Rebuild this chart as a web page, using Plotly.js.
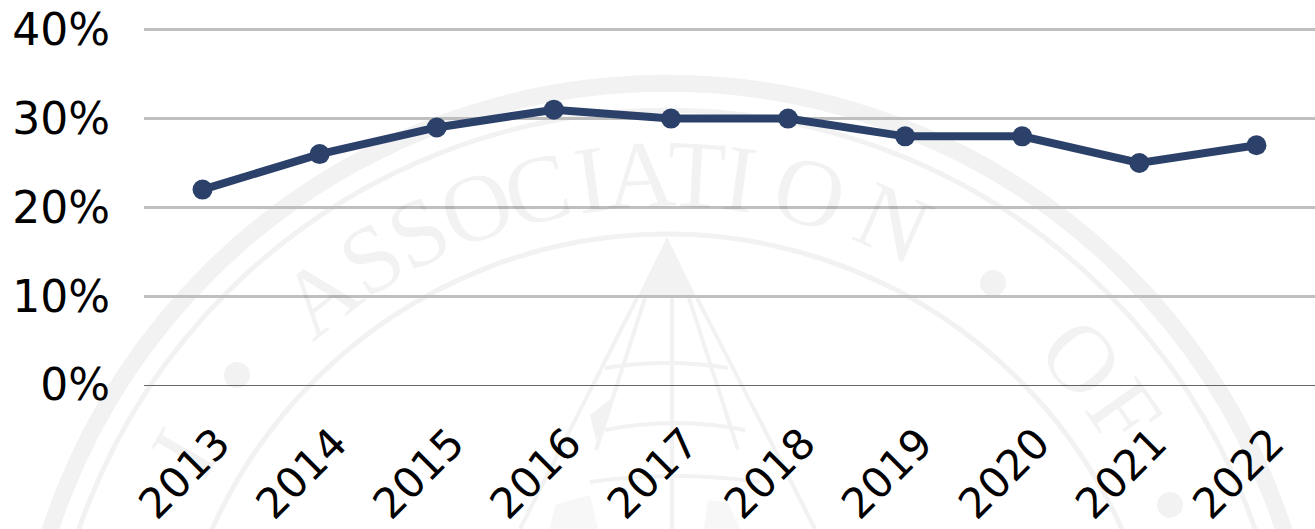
<!DOCTYPE html>
<html><head><meta charset="utf-8"><script src="https://cdn.plot.ly/plotly-3.0.1.min.js"></script>
<style>html,body{margin:0;padding:0;background:#fff}</style></head><body><div id="c" style="width:1315px;height:529px"></div>
<script>
const years=["2013","2014","2015","2016","2017","2018","2019","2020","2021","2022"];
const shares=[22,26,29,31,30,30,28,28,25,27];
const yTicks=[0,10,20,30,40];
const W=1315,H=529,CX=667,CY=732,WM='#f2f2f2',WMsoft='#f7f7f7';
const sealText=[["I",-60],["A",-38.5],["S",-32],["S",-26.5],["O",-20],["C",-13.5],["I",-7.8],["A",-2.7],["T",3],["I",7.5],["O",14.8],["N",24],["O",48],["F",55]];
const sealRings=[[649,17],[622,5],[498,5]];
const sealDots=[[237,375],[993,283],[1170,505]];
const px=x=>(x-144)/1171, py=y=>(385-y)/373.3;
const shapes=[];
sealRings.forEach(([r,w])=>shapes.push({type:'circle',xref:'paper',yref:'paper',layer:'below',x0:px(CX-r),x1:px(CX+r),y0:py(CY+r),y1:py(CY-r),line:{color:WM,width:w},fillcolor:'rgba(0,0,0,0)'}));
sealDots.forEach(([x,y])=>shapes.push({type:'circle',xref:'paper',yref:'paper',layer:'below',x0:px(x-13),x1:px(x+13),y0:py(y+13),y1:py(y-13),line:{width:0},fillcolor:WM}));
const path=(pts,close)=>'M'+pts.map(p=>px(p[0])+' '+py(p[1])).join(' L')+(close?' Z':'');
const seg=(pts,w,fill)=>shapes.push({type:'path',xref:'paper',yref:'paper',layer:'below',path:path(pts,!!fill),line:{color:WM,width:fill?0:w},fillcolor:fill||'rgba(0,0,0,0)'});
seg([[667,237],[637,298],[697,298]],0,WM);
[[[637,298],[560,450]],[[697,298],[775,450]],[[645,298],[596,450]],[[689,298],[738,450]],[[672,298],[672,529]],[[560,450],[520,529]],[[775,450],[815,529]]].forEach(s=>seg(s,4));
const arch=(x0,x1,y0,yt)=>shapes.push({type:'path',xref:'paper',yref:'paper',layer:'below',path:'M'+px(x0)+' '+py(y0)+' Q'+px((x0+x1)/2)+' '+py(2*yt-y0)+' '+px(x1)+' '+py(y0),line:{color:WM,width:4},fillcolor:'rgba(0,0,0,0)'});
arch(605,728,368,363);arch(605,745,430,423);arch(590,760,482,476);
seg([[590,415],[612,398],[608,420],[596,440]],0,WM);
seg([[555,505],[590,495],[598,529],[550,529]],0,WMsoft);
seg([[708,500],[728,503],[740,529],[704,529]],0,WMsoft);
const annotations=sealText.map(([t,a])=>{const r=558,q=a*Math.PI/180;return {text:t,xref:'paper',yref:'paper',xanchor:'center',yanchor:'middle',x:px(CX+r*Math.sin(q)),y:py(CY-r*Math.cos(q)),textangle:a,showarrow:false,font:{family:'Liberation Serif',size:96,color:'rgba(0,0,0,0.05)'}}});
Plotly.newPlot('c',[{x:years,y:shares,type:'scatter',mode:'lines+markers',line:{color:'#2c4169',width:8},marker:{color:'#2c4169',size:20}}],{
width:W,height:H,margin:{l:144,r:0,t:11.7,b:144},paper_bgcolor:'#fff',plot_bgcolor:'rgba(0,0,0,0)',showlegend:false,shapes,annotations,
font:{family:'DejaVu Sans, sans-serif',size:43,color:'#000'},
xaxis:{type:'category',tickangle:-45,showgrid:false,zeroline:false,showline:false,ticks:'',range:[-0.5,9.5],ticklabelstandoff:24,ticklabelshift:15,tickfont:{size:42}},
yaxis:{range:[0,42],tickvals:yTicks,ticktext:yTicks.map(v=>v+'%'),showgrid:true,gridcolor:'#bfbfbf',gridwidth:3,zeroline:true,zerolinecolor:'#666',zerolinewidth:1,ticks:'',ticklen:0,ticklabelstandoff:33,tickfont:{size:44}}
},{displayModeBar:false,staticPlot:true});
</script></body></html>
